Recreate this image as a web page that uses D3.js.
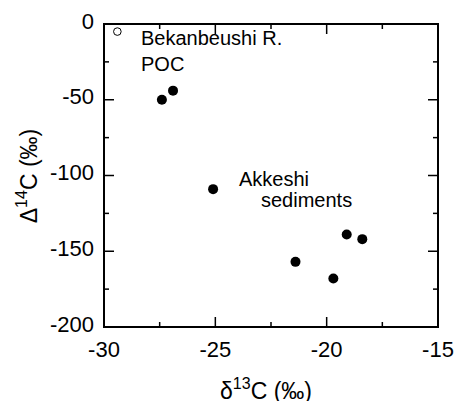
<!DOCTYPE html>
<html>
<head>
<meta charset="utf-8">
<script src="https://cdn.jsdelivr.net/npm/d3@7"></script>
<style>
  body { margin: 0; background: #fff; }
  text { font-family: Arial, "Liberation Sans", sans-serif; fill: #000; }
</style>
</head>
<body>
<svg id="chart" width="457" height="401"></svg>
<script>
// river POC sample (open circle)
var riverD13C = [-29.4];
var riverD14C = [-5];

// Akkeshi sediment samples (filled circles)
var sedD13C = [-27.4, -26.9, -25.1, -21.4, -19.7, -19.1, -18.4];
var sedD14C = [-50, -44, -109, -157, -168, -139, -142];

var xMajor = [-30, -25, -20, -15];
var xMinor = [-27.5, -22.5, -17.5];
var yMajor = [0, -50, -100, -150, -200];
var yMinor = [-25, -75, -125, -175];

var svg = d3.select('#chart');

var plot = {l: 104, t: 24, r: 438, b: 327};

var x = d3.scaleLinear().domain([-30, -15]).range([plot.l, plot.r]);
var y = d3.scaleLinear().domain([-200, 0]).range([plot.b, plot.t]);

var tickG = svg.append('g').attr('stroke', '#000').attr('stroke-width', 1.5);

// inward ticks on all four sides
function xTicks(vals, len) {
    vals.forEach(function(v) {
        tickG.append('line').attr('x1', x(v)).attr('x2', x(v))
            .attr('y1', plot.b).attr('y2', plot.b - len);
        tickG.append('line').attr('x1', x(v)).attr('x2', x(v))
            .attr('y1', plot.t).attr('y2', plot.t + len);
    });
}
function yTicks(vals, len) {
    vals.forEach(function(v) {
        tickG.append('line').attr('y1', y(v)).attr('y2', y(v))
            .attr('x1', plot.l).attr('x2', plot.l + len);
        tickG.append('line').attr('y1', y(v)).attr('y2', y(v))
            .attr('x1', plot.r).attr('x2', plot.r - len);
    });
}
xTicks(xMajor, 10);
xTicks(xMinor, 5);
yTicks(yMajor, 10);
yTicks(yMinor, 5);

// frame
svg.append('rect')
    .attr('x', plot.l).attr('y', plot.t)
    .attr('width', plot.r - plot.l).attr('height', plot.b - plot.t)
    .attr('fill', 'none').attr('stroke', '#000').attr('stroke-width', 2);

// tick labels
svg.selectAll('.xlab').data(xMajor).enter().append('text')
    .attr('class', 'xlab')
    .attr('x', function(d) { return x(d); })
    .attr('y', 356.5)
    .attr('text-anchor', 'middle')
    .style('font-size', '22px')
    .text(function(d) { return d; });

svg.selectAll('.ylab').data(yMajor).enter().append('text')
    .attr('class', 'ylab')
    .attr('x', 94)
    .attr('y', function(d) { return y(d) + 4.5; })
    .attr('text-anchor', 'end')
    .style('font-size', '22px')
    .text(function(d) { return d; });

// axis titles
var xt = svg.append('text')
    .attr('x', 266).attr('y', 399)
    .attr('text-anchor', 'middle')
    .style('font-size', '23px');
xt.append('tspan').text('\u03b4');
xt.append('tspan').attr('dy', -10).style('font-size', '16px').text('13');
xt.append('tspan').attr('dy', 10).text('C (\u2030)');

var yt = svg.append('text')
    .attr('transform', 'translate(37,176) rotate(-90)')
    .attr('text-anchor', 'middle')
    .style('font-size', '23px');
yt.append('tspan').text('\u0394');
yt.append('tspan').attr('dy', -10).style('font-size', '16px').text('14');
yt.append('tspan').attr('dy', 10).text('C (\u2030)');

// points
svg.selectAll('.river').data(riverD13C).enter().append('circle')
    .attr('class', 'river')
    .attr('cx', function(d) { return x(d); })
    .attr('cy', function(d, i) { return y(riverD14C[i]); })
    .attr('r', 3.8)
    .attr('fill', '#fff').attr('stroke', '#000').attr('stroke-width', 1);

svg.selectAll('.sed').data(sedD13C).enter().append('circle')
    .attr('class', 'sed')
    .attr('cx', function(d) { return x(d); })
    .attr('cy', function(d, i) { return y(sedD14C[i]); })
    .attr('r', 5)
    .attr('fill', '#000');

// annotations
svg.append('text').attr('x', 141).attr('y', 45).style('font-size', '20px').text('Bekanbeushi R.');
svg.append('text').attr('x', 141).attr('y', 71).style('font-size', '20px').text('POC');
svg.append('text').attr('x', 239).attr('y', 186).style('font-size', '20px').text('Akkeshi');
svg.append('text').attr('x', 261).attr('y', 207).style('font-size', '20px').text('sediments');
</script>
</body>
</html>
